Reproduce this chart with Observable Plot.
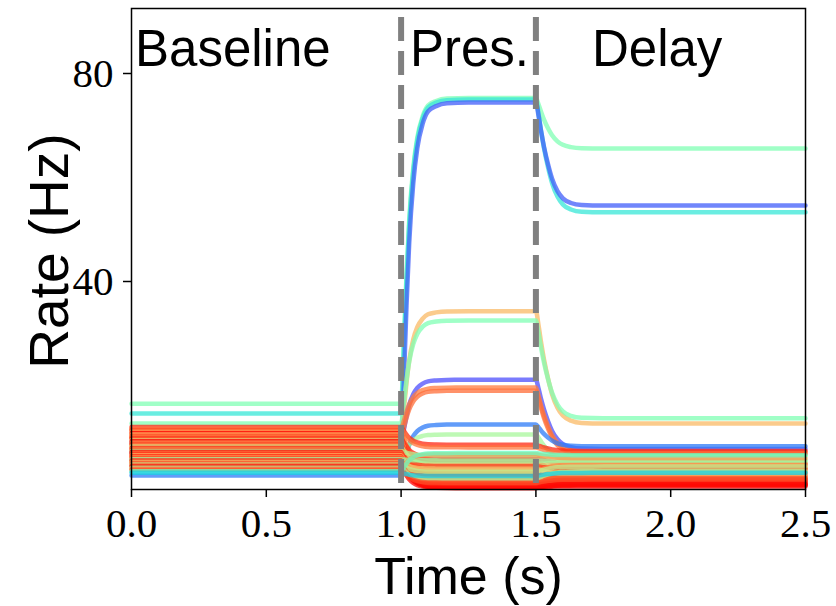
<!DOCTYPE html>
<html>
<head>
<meta charset="utf-8">
<script src="https://cdn.jsdelivr.net/npm/d3@7"></script>
<script src="https://cdn.jsdelivr.net/npm/@observablehq/plot@0.6"></script>
<style>
  body { margin: 0; background: #fff; }
  #chart svg { display: block; }
</style>
</head>
<body>
<div id="chart"></div>
<script>
// ---- Data ----
// Colormap position (matplotlib "rainbow") of each neuron trace (drawn in this order)
const neuronColorPos = [
  0.50, 0.36, 0.12, 0.74, 0.50, 0.10, 0.84, 0.86, 0.16, 0.58,
  0.95, 0.85, 0.90, 0.80, 1.00, 0.75, 0.90, 0.85, 0.95, 0.70,
  1.00, 0.80, 0.88, 0.92, 0.78, 0.65, 0.97, 0.83, 0.90, 0.60,
  1.00, 0.87, 0.93, 0.76, 0.95, 0.82, 0.90, 0.55, 0.98, 0.86,
  0.72, 0.94, 0.62, 0.88, 0.99, 0.58, 0.80, 0.91, 0.45, 0.30
];
// Steady rate (Hz) in each epoch
const baselineRate = [
  16.5, 14.6, 7.0, 10.5, 12.7, 9.0, 11.5, 10.0, 2.7, 5.6,
  12.0, 11.7, 11.4, 11.1, 10.8, 10.6, 10.3, 10.0, 9.8, 9.5,
  9.3, 9.0, 8.8, 8.6, 8.4, 8.2, 8.0, 7.8, 7.6, 7.4,
  7.2, 7.0, 6.8, 6.6, 6.4, 6.2, 6.0, 5.8, 5.6, 5.4,
  5.2, 5.0, 4.8, 4.6, 4.4, 4.2, 4.0, 3.8, 3.5, 3.2
];
const presentationRate = [
  75.3, 75.0, 74.4, 34.3, 32.5, 21.1, 19.6, 19.0, 12.5, 10.6,
  8.6, 8.1, 3.2, 5.0, 1.0, 4.2, 0.6, 2.5, 6.2, 1.8,
  0.3, 3.8, 1.4, 5.6, 2.2, 4.8, 0.5, 3.0, 1.2, 6.6,
  0.4, 2.0, 4.5, 1.6, 0.8, 3.5, 2.8, 5.6, 0.5, 2.4,
  4.0, 1.0, 3.4, 1.8, 0.3, 2.0, 6.8, 1.3, 7.0, 2.6
];
const delayRate = [
  65.6, 53.3, 54.6, 12.7, 13.7, 7.8, 7.2, 6.8, 8.3, 5.6,
  7.4, 6.9, 2.0, 4.3, 0.9, 3.6, 1.4, 3.0, 5.0, 2.6,
  0.8, 4.6, 1.2, 3.3, 3.9, 5.2, 1.0, 2.3, 1.8, 6.4,
  0.6, 2.8, 4.0, 3.4, 1.5, 4.8, 2.0, 5.6, 0.9, 2.5,
  3.0, 1.6, 4.4, 2.2, 1.1, 3.5, 6.0, 1.9, 6.6, 3.2
];
// Shape of the transitions after each epoch switch (time after switch, fraction completed)
const transitionOffsets  = [0, 0.01, 0.02, 0.03, 0.045, 0.06, 0.08, 0.10, 0.13, 0.17, 0.25];
const onsetFractions     = [0, 0.20, 0.42, 0.60, 0.77, 0.87, 0.94, 0.975, 0.99, 0.998, 1];
const delayFractions     = [0, 0.13, 0.29, 0.43, 0.60, 0.74, 0.86, 0.93, 0.975, 0.995, 1];
const epochStarts = [0, 1.0, 1.5];
const epochEnd = 2.5;
const epochLabels = ["Baseline", "Pres.", "Delay"];
const epochLabelX = [0.013, 1.033, 1.708];
const epochLabelY = 81.5;
const xTicks = [0, 0.5, 1.0, 1.5, 2.0, 2.5];
const yTicks = [40, 80];

// matplotlib "rainbow" colormap
function rainbow(t) {
  const r = Math.min(1, Math.abs(2 * t - 0.5));
  const g = Math.sin(Math.PI * t);
  const b = Math.cos(Math.PI * t / 2);
  return `rgb(${Math.round(r * 255)},${Math.round(g * 255)},${Math.round(Math.max(0, b) * 255)})`;
}

const rows = [];
neuronColorPos.forEach((c, i) => {
  const levels = [baselineRate[i], presentationRate[i], delayRate[i]];
  const shapes = [null, onsetFractions, delayFractions];
  rows.push({id: i, t: epochStarts[0], r: levels[0], c});
  for (let e = 1; e < 3; e++) {
    const from = levels[e - 1], to = levels[e];
    transitionOffsets.forEach((o, k) => {
      rows.push({id: i, t: epochStarts[e] + o, r: from + (to - from) * shapes[e][k], c});
    });
  }
  rows.push({id: i, t: epochEnd, r: levels[2], c});
});

const chart = Plot.plot({
  width: 836,
  height: 606,
  marginLeft: 131,
  marginRight: 31,
  marginTop: 8,
  marginBottom: 117,
  x: {domain: [0, 2.5]},
  y: {domain: [0, 92.5]},
  color: {type: "linear", domain: [0, 1], interpolate: rainbow},
  marks: [
    Plot.line(rows, {x: "t", y: "r", z: "id", stroke: "c", strokeWidth: 4.5, strokeOpacity: 0.75, curve: "monotone-x"}),
    Plot.ruleX([1.0, 1.5], {stroke: "#808080", strokeWidth: 6, strokeDasharray: "24,10", strokeDashoffset: 25}),
    Plot.frame({stroke: "black", strokeWidth: 1.5}),
    Plot.axisX({ticks: xTicks, tickFormat: d3.format(".1f"), tickSize: 8, tickPadding: 10, fontSize: 41, fontFamily: "Liberation Serif", label: null, stroke: "black", strokeWidth: 1.5}),
    Plot.axisY({ticks: yTicks, tickSize: 8, tickPadding: 10, fontSize: 41, fontFamily: "Liberation Serif", label: null, stroke: "black", strokeWidth: 1.5}),
    Plot.text(epochLabels, {x: (d, i) => epochLabelX[i], y: epochLabelY, text: d => d, textAnchor: "start", lineAnchor: "bottom", fontSize: 51, fontFamily: "Liberation Sans", fill: "black"}),
    Plot.text(["Time (s)"], {frameAnchor: "bottom", textAnchor: "middle", dy: 104, lineAnchor: "bottom", fontSize: 52, fontFamily: "Liberation Sans", fill: "black"}),
    Plot.text(["Rate (Hz)"], {frameAnchor: "left", textAnchor: "middle", dx: -64, dy: 2, rotate: -90, lineAnchor: "bottom", fontSize: 55, fontFamily: "Liberation Sans", fill: "black"})
  ]
});
document.getElementById("chart").appendChild(chart);
</script>
</body>
</html>
